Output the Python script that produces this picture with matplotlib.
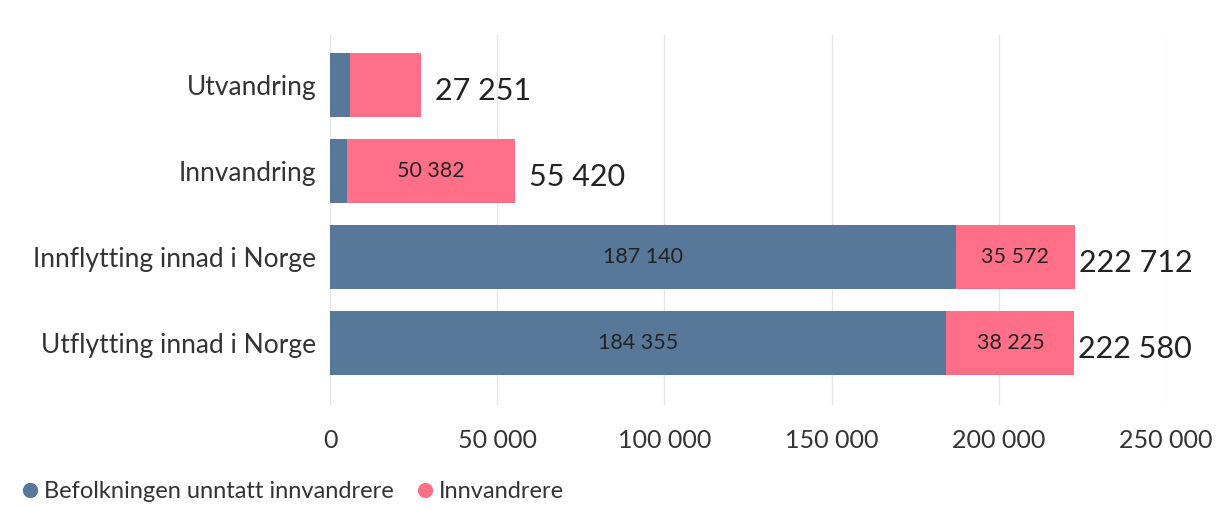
import matplotlib.pyplot as plt
import numpy as np

plt.rcParams['font.family'] = ['Lato', 'DejaVu Sans']

# data
categories = ['Utvandring', 'Innvandring', 'Innflytting innad i Norge', 'Utflytting innad i Norge']
befolkning = [6050, 5038, 187140, 184355]
innvandrere = [21201, 50382, 35572, 38225]
totals = [27251, 55420, 222712, 222580]
inner_labels_innv = ['', '50 382', '35 572', '38 225']
inner_labels_bef = ['', '', '187 140', '184 355']
xticks = [0, 50000, 100000, 150000, 200000, 250000]

blue = '#58789a'
pink = '#ff7088'


def fmt(v):
    return f'{v:,}'.replace(',', ' ')


fig = plt.figure(figsize=(12.26, 5.09), dpi=100)
ax = fig.add_axes([330 / 1226, 1 - 405 / 509, (1166 - 330) / 1226, (405 - 35) / 509])

y = np.arange(len(categories))
h = 0.75
ax.barh(y, befolkning, h, color=blue, label='Befolkningen unntatt innvandrere', zorder=2)
ax.barh(y, innvandrere, h, left=befolkning, color=pink, label='Innvandrere', zorder=2)

for i in range(len(categories)):
    if inner_labels_bef[i]:
        ax.text(befolkning[i] / 2, y[i], inner_labels_bef[i], ha='center', va='center',
                fontsize=15.5, color='#222222', zorder=3)
    if inner_labels_innv[i]:
        ax.text(befolkning[i] + innvandrere[i] / 2, y[i], inner_labels_innv[i], ha='center',
                va='center', fontsize=15.5, color='#222222', zorder=3)
    off = 4000 if totals[i] < 100000 else 1200
    ax.text(totals[i] + off, y[i] + 0.07, fmt(totals[i]), ha='left', va='center',
            fontsize=22, color='#222222', zorder=3)

ax.set_xlim(0, 250000)
ax.set_ylim(3.72, -0.58)
ax.set_yticks(y)
ax.set_yticklabels(categories, fontsize=19, color='#333333')
ax.set_xticks(xticks)
ax.set_xticklabels([fmt(t) for t in xticks], fontsize=18, color='#333333')
ax.tick_params(length=0)
ax.tick_params(axis='x', pad=17)
ax.tick_params(axis='y', pad=10)
ax.grid(axis='x', color='#e4e6ec', linewidth=1, zorder=0)
for s in ax.spines.values():
    s.set_visible(False)

handles = [plt.Line2D([], [], marker='o', linestyle='', color=blue, markersize=10),
           plt.Line2D([], [], marker='o', linestyle='', color=pink, markersize=10)]
fig.legend(handles, ['Befolkningen unntatt innvandrere', 'Innvandrere'],
           loc='center left', bbox_to_anchor=(-0.012, 1 - 492 / 509), ncol=2, frameon=False,
           fontsize=17, handletextpad=-0.4, columnspacing=0.3, labelcolor='#333333')

plt.savefig('out.png', dpi=100)
